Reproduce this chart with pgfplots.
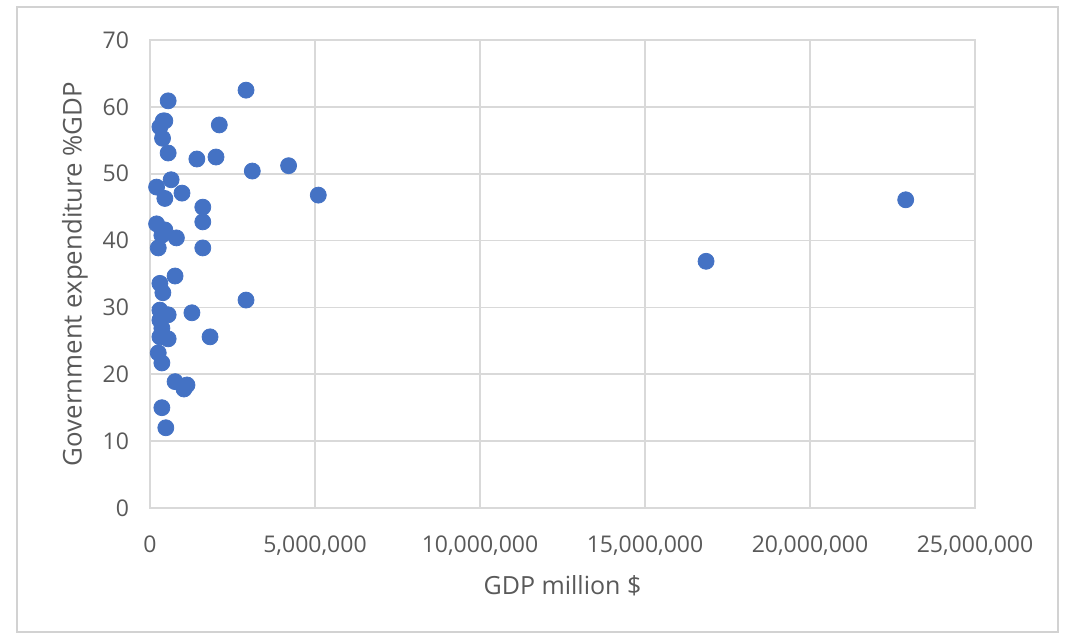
\documentclass[border=0pt]{standalone}
\usepackage{pgfplots}
\pgfplotsset{compat=1.18}
\usepackage{fontspec}
\setmainfont{Open Sans}
\definecolor{dotcol}{HTML}{4472C4}
\definecolor{gridcol}{HTML}{D9D9D9}
\definecolor{txtcol}{HTML}{595959}
\begin{document}
\begin{tikzpicture}
\path (0,0) rectangle (535.5pt,318.5pt);
\draw[gray!35, line width=0.8pt] (8.5pt,2.5pt) rectangle (529pt,315pt);
\begin{axis}[
  at={(75pt,64.5pt)}, anchor=south west,
  scale only axis, width=412.5pt, height=234pt,
  xmin=0, xmax=25000000, ymin=0, ymax=70,
  xtick={0,5000000,10000000,15000000,20000000,25000000},
  ytick={0,10,...,70},
  scaled x ticks=false,
  /pgf/number format/.cd, fixed, 1000 sep={,}, assume math mode=true,
  /pgfplots/.cd,
  grid=major,
  major grid style={gridcol, line width=0.8pt},
  axis line style={gridcol, line width=0.8pt},
  tick style={draw=none},
  tick label style={font=\fontsize{11.5}{13}\selectfont, text=txtcol},
  xticklabel style={yshift=-10.5pt},
  yticklabel style={xshift=-7pt},
  xlabel={GDP million \$},
  ylabel={Government expenditure \%GDP},
  xlabel style={font=\fontsize{12.5}{14}\selectfont, text=txtcol, at={(rel axis cs:0.5,0)}, anchor=center, yshift=-39pt},
  ylabel style={font=\fontsize{12.9}{14}\selectfont, text=txtcol, at={(rel axis cs:0,0.5)}, anchor=center, yshift=37.5pt},
]
\addplot[only marks, mark=*, mark size=4pt, mark options={draw=dotcol, fill=dotcol}] coordinates {
(2910000,62.5) (550000,60.9) (400000,57.9) (450000,57.9) (300000,57.0) (380000,55.3)
(550000,53.1) (2100000,57.3) (1420000,52.2) (2000000,52.5) (3100000,50.4) (4200000,51.2)
(5100000,46.8) (640000,49.1) (200000,48.0) (450000,46.3) (970000,47.1) (1600000,45.0)
(1600000,42.8) (200000,42.5) (450000,41.6) (800000,40.4) (360000,40.8) (250000,38.9)
(1600000,38.9) (760000,34.7) (300000,33.6) (390000,32.2) (2910000,31.1) (300000,29.6)
(550000,28.9) (1270000,29.2) (300000,28.1) (360000,26.9) (550000,25.3) (300000,25.6)
(1820000,25.6) (250000,23.2) (360000,21.7) (760000,18.9) (1120000,18.4) (1030000,17.8)
(360000,15.0) (480000,12.0) (16850000,36.9) (22900000,46.1)
};
\end{axis}
\end{tikzpicture}
\end{document}
